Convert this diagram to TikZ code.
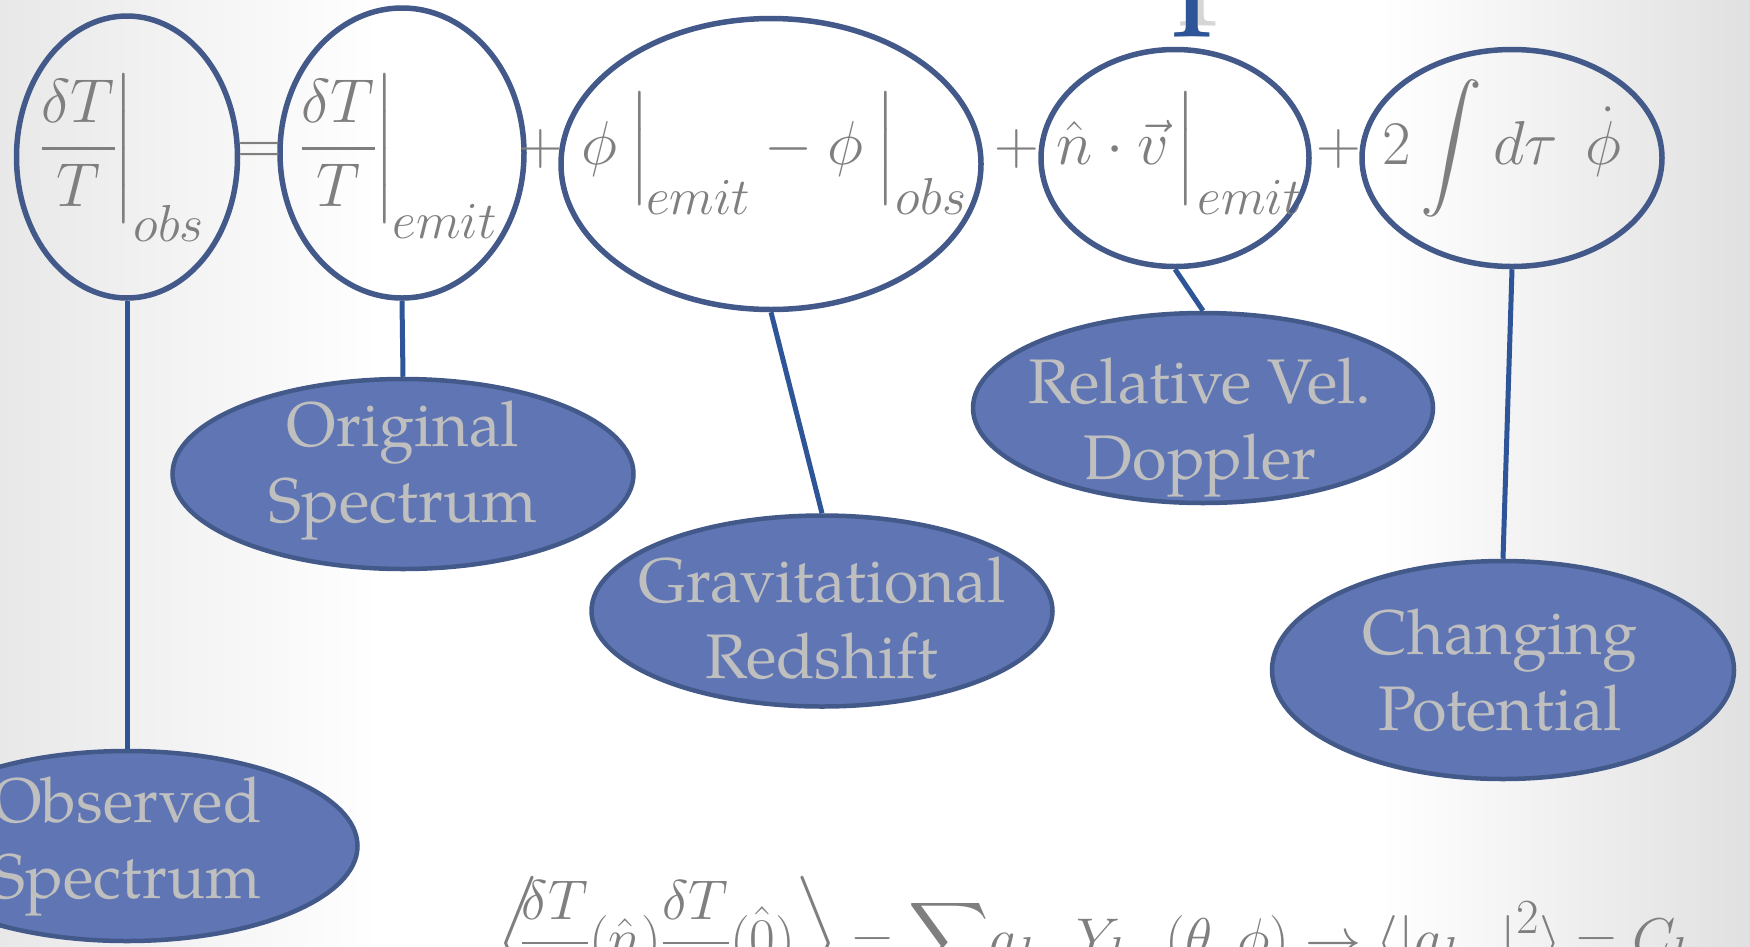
\RequirePackage{fix-cm}
\documentclass[tikz,border=0pt]{standalone}
\usepackage{amsmath}
\usepackage{fontspec}
\setmainfont{TeX Gyre Pagella}
\DeclareFontShape{OMX}{cmex}{m}{n}{<->cmex10}{}
\usetikzlibrary{shapes.geometric,shadings}
\DeclareMathSizes{62}{62}{52}{40}
\DeclareMathSizes{56}{56}{49}{36}
\definecolor{ringc}{HTML}{43598A}
\definecolor{fillc}{HTML}{6076B4}
\definecolor{linkc}{HTML}{2E5597}
\definecolor{labc}{HTML}{BFBFBF}
\definecolor{mathc}{HTML}{7F7F7F}
\definecolor{titlec}{HTML}{2E5597}
\definecolor{shadowc}{HTML}{D6D6D6}
\newcommand{\lsub}[3]{\kern#1\lower#2\hbox{$\scriptstyle #3$}}
\newcommand{\tallbar}{\rule[-60pt]{0pt}{150pt}}
\newcommand{\midbar}{\rule[-37pt]{0pt}{105pt}}
\begin{document}
\begin{tikzpicture}[x=1pt,y=-1pt,
  ring/.style={draw=ringc, line width=5.5pt, ellipse, inner sep=0pt},
  blob/.style={draw=ringc, line width=4.5pt, ellipse, fill=fillc, inner sep=0pt},
  lab/.style={text=labc, inner sep=0pt, align=center, font=\fontsize{63}{76}\selectfont},
  link/.style={draw=linkc, line width=5pt},
  eq/.style={text=mathc, inner sep=0pt, font=\fontsize{62}{70}\selectfont},
  beqs/.style={text=mathc, inner sep=0pt, font=\fontsize{56}{60}\selectfont},
  ttl/.style={inner sep=0pt, font=\fontsize{141}{141}\selectfont}]
\useasboundingbox (0,0) rectangle (1750,946);
\clip (0,0) rectangle (1750,946);
% background
\fill[white] (0,0) rectangle (1750,946);
\shade[left color=black!9, right color=white] (0,0) rectangle (380,946);
\shade[left color=white, right color=black!12] (1380,0) rectangle (1750,946);
% title (cut off at the top) with its shadow
\node[ttl, anchor=base west, text=shadowc] (ttlshadow) at (279,-14) {CMB Anisotropies};
\node[ttl, anchor=base west, text=titlec] (title) at (273,-3) {CMB Anisotropies};
% rings around the terms
\node[ring, minimum width=221pt, minimum height=282pt] (ea) at (127,157) {};
\node[ring, minimum width=244pt, minimum height=290pt] (eb) at (402,153) {};
\node[ring, minimum width=420pt, minimum height=291pt] (ec) at (771,164) {};
\node[ring, minimum width=268pt, minimum height=217pt] (ed) at (1175,158) {};
\node[ring, minimum width=300pt, minimum height=217pt] (ee) at (1512,158) {};
% equation terms
\node[eq, anchor=base west] (ta) at (39,164) {$\left.\dfrac{\delta T}{T}\kern-3pt\tallbar\right|_{\lsub{0pt}{15pt}{obs}}$};
\node[eq, anchor=base] (eqs) at (260,164) {$=$};
\node[eq, anchor=base west] (tb) at (299,164) {$\left.\dfrac{\delta T}{T}\kern-2pt\tallbar\right|_{\lsub{-2pt}{12pt}{emit}}$};
\node[eq, anchor=base] (pa) at (541,164) {$+$};
\node[eq, anchor=base west] (tc) at (580,164) {$\left.\phi\kern12pt\midbar\right|_{\lsub{-4pt}{8pt}{emit}}-\left.\phi\kern12pt\midbar\right|_{\lsub{0pt}{8pt}{obs}}$};
\node[eq, anchor=base] (pb) at (1017,164) {$+$};
\node[eq, anchor=base west] (td) at (1055,164) {$\left.\hat n\cdot\vec v\kern6pt\midbar\right|_{\lsub{2pt}{8pt}{emit}}$};
\node[eq, anchor=base] (pc) at (1339,164) {$+$};
\node[eq, anchor=base west] (te) at (1382,164) {$2\displaystyle\int d\tau\;\,\dot\phi$};
% labelled ellipses
\node[blob, minimum width=461pt, minimum height=190pt] (obs) at (127,846) {};
\node[lab] (obst) at (127,846) {Observed\\Spectrum};
\node[blob, minimum width=461pt, minimum height=190pt] (orig) at (403,474) {};
\node[lab] (origt) at (403,470) {Original\\Spectrum};
\node[blob, minimum width=461pt, minimum height=191pt] (grav) at (822,611) {};
\node[lab] (gravt) at (822,618) {Gravitational\\Redshift};
\node[blob, minimum width=460pt, minimum height=190pt] (rel) at (1203,408) {};
\node[lab] (relt) at (1200,427) {Relative Vel.\\Doppler};
\node[blob, minimum width=462pt, minimum height=218pt] (chg) at (1503,670) {};
\node[lab] (chgt) at (1500,670) {Changing\\Potential};
% connectors
\draw[link] (ea.south) -- (obs.north);
\draw[link] (eb.south) -- (orig.north);
\draw[link] (ec.south) -- (grav.north);
\draw[link] (ed.south) -- (rel.north);
\draw[link] (ee.south) -- (chg.north);
% bottom equation (cut off)
\node[beqs, anchor=base west] (beq) at (497,957) {$\left\langle\!\!\dfrac{\delta T}{T}(\hat n)\dfrac{\delta T}{T}(\hat 0)\right\rangle=\displaystyle\sum\!a_{lm}Y_{lm}(\theta,\phi)\rightarrow\langle|a_{lm}|^2\rangle=C_l$};
\end{tikzpicture}
\end{document}
